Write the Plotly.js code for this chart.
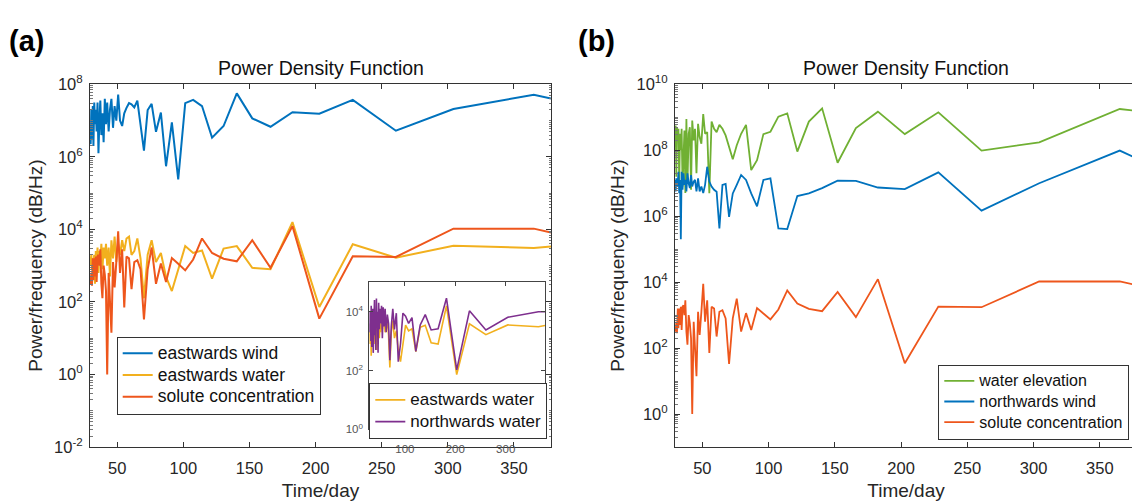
<!DOCTYPE html>
<html><head><meta charset="utf-8">
<script src="https://cdn.plot.ly/plotly-3.0.1.min.js"></script>
<style>html,body{margin:0;padding:0;overflow:hidden;background:#fff;width:1132px;height:502px}#chart{width:1140px;height:502px}</style>
</head><body><div id="chart"></div>
<script>
// period (days) of each spectral estimate
const days = [29.4,29.9,30.4,30.9,31.5,32.0,32.6,33.2,33.8,34.4,35.1,35.8,36.5,37.2,38.0,38.8,39.7,40.6,41.5,42.4,43.5,44.5,45.6,46.8,48.0,49.3,50.7,52.1,53.7,55.3,57.0,58.9,60.8,62.9,65.2,67.6,70.2,73.0,76.0,79.3,83.0,86.9,91.3,96.1,101.4,107.4,114.1,121.7,130.4,140.4,152.1,165.9,182.5,202.8,228.1,260.7,304.2,365.0,378.0];

// values read as log10(power/frequency)
const eastWindLog = [6.6,6.35,7.3,6.5,7.4,6.3,7.5,6.9,7.3,6.7,7.5,6.1,7.0,7.55,6.6,7.2,6.4,7.6,6.9,7.5,6.7,7.3,7.6,6.8,7.4,7.0,7.72,7.0,6.85,7.2,7.35,7.48,7.45,7.36,7.55,6.9,6.17,7.29,7.46,6.69,7.22,5.74,6.95,5.38,7.48,7.57,7.40,6.53,6.85,7.75,7.06,6.83,7.23,7.19,7.57,6.72,7.32,7.71,7.61];
const eastWaterLog = [3.25,3.0,3.3,2.9,3.2,3.1,3.3,2.5,3.4,3.0,3.5,2.8,3.4,3.1,3.6,2.9,3.5,3.2,3.6,3.0,3.5,2.7,3.7,3.2,3.8,3.1,3.6,3.3,3.7,3.4,3.75,3.8,3.3,3.4,3.75,3.2,2.1,3.3,3.70,3.10,3.35,2.69,2.30,2.9,3.54,3.35,3.42,2.64,3.47,3.54,2.94,2.90,4.20,1.86,3.59,3.22,3.55,3.49,3.53];
const soluteLog = [2.65,2.5,2.8,2.45,3.2,2.6,3.2,2.7,3.25,2.55,3.25,3.3,3.0,3.45,2.5,2.1,3.0,2.75,2.3,0.0,2.8,2.0,1.15,3.1,2.4,3.1,3.95,2.8,3.45,1.85,3.25,3.2,2.35,3.1,3.15,2.9,1.52,2.9,3.5,2.5,3.06,2.55,3.21,3.05,2.87,3.17,3.75,3.35,3.19,3.12,3.70,2.94,4.09,1.54,3.26,3.24,4.02,4.02,3.91];
const northWaterLog = [3.6,3.9,3.3,4.0,3.5,3.8,3.0,4.2,3.4,2.8,4.0,3.3,4.1,2.6,3.9,3.3,4.4,3.2,3.9,2.7,4.45,3.5,4.0,2.6,4.3,3.4,4.1,3.6,4.2,3.1,4.15,3.5,4.1,3.3,3.9,3.6,2.35,3.5,4.1,3.4,3.95,2.3,2.9,3.95,3.85,3.6,3.8,2.65,3.55,3.9,3.38,3.42,4.46,2.02,4.03,3.38,3.81,4.0,4.0];
const waterElevLog = [8.1,8.75,7.2,8.7,8.3,8.65,7.0,8.5,8.0,8.65,6.9,8.3,8.6,6.7,8.95,7.0,8.5,8.7,6.8,8.9,8.3,8.65,7.3,8.8,8.4,8.2,9.1,8.5,8.55,6.7,8.87,8.65,8.55,8.77,8.65,8.45,8.1,7.73,8.15,8.5,8.77,7.40,7.70,8.49,8.56,9.02,9.12,7.96,8.87,9.27,7.62,8.67,9.17,8.49,9.15,7.99,8.24,9.25,9.19];
const northWindLog = [7.1,6.75,7.15,6.9,7.0,7.35,6.7,7.1,5.3,7.35,6.8,7.3,6.95,7.1,6.75,7.3,7.0,6.85,7.25,6.9,7.05,7.1,6.75,7.15,6.75,6.9,6.7,6.95,7.5,7.05,6.9,6.8,6.74,5.63,6.95,6.98,5.98,6.69,6.95,7.25,7.10,6.69,6.3,7.1,7.15,5.63,5.61,6.61,6.69,6.85,7.08,7.07,6.87,6.82,7.33,6.17,7.00,7.99,7.75];

const dayTicks = [50,100,150,200,250,300,350];
const insetDayTicks = [100,200,300];
const yTicksA = [1e-2,1e0,1e2,1e4,1e6,1e8];
const yTextA = ['10<sup>-2</sup>','10<sup>0</sup>','10<sup>2</sup>','10<sup>4</sup>','10<sup>6</sup>','10<sup>8</sup>'];
const yTicksB = [1e0,1e2,1e4,1e6,1e8,1e10];
const yTextB = ['10<sup>0</sup>','10<sup>2</sup>','10<sup>4</sup>','10<sup>6</sup>','10<sup>8</sup>','10<sup>10</sup>'];
const yTicksInset = [1e0,1e2,1e4];
const yTextInset = ['10<sup>0</sup>','10<sup>2</sup>','10<sup>4</sup>'];

const names = {eastWind:'eastwards wind', eastWater:'eastwards water', solute:'solute concentration', northWater:'northwards water', waterElev:'water elevation', northWind:'northwards wind'};

const C = {blue:'#0072BD', yellow:'#F2B01E', red:'#EE561C', purple:'#7E2F8E', green:'#70B033'};
const pow = a => a.map(v => Math.pow(10, v));

const W = 1140, H = 502;
const fx = p => p / W, fy = p => 1 - p / H;
const FONT = 'Liberation Sans, Arial, sans-serif';
const INK = '#262626';
const legendLabel = (s, size) => '<span style="font-size:' + size + 'px">' + s + '</span>';

function tr(y, name, color, xa, ya, legend, width, textSize) {
  return {x: days, y: pow(y), name: legendLabel(name, textSize), type: 'scatter', mode: 'lines',
    line: {color: color, width: width}, xaxis: xa, yaxis: ya, legend: legend, hoverinfo: 'skip'};
}

const data = [
  tr(eastWindLog, names.eastWind, C.blue, 'x', 'y', 'legend', 2, 17.5),
  tr(eastWaterLog, names.eastWater, C.yellow, 'x', 'y', 'legend', 2, 17.5),
  tr(soluteLog, names.solute, C.red, 'x', 'y', 'legend', 2, 17.5),
  tr(eastWaterLog, names.eastWater, C.yellow, 'x3', 'y3', 'legend3', 1.6, 17),
  tr(northWaterLog, names.northWater, C.purple, 'x3', 'y3', 'legend3', 1.6, 17),
  tr(waterElevLog, names.waterElev, C.green, 'x2', 'y2', 'legend2', 1.8, 16),
  tr(northWindLog, names.northWind, C.blue, 'x2', 'y2', 'legend2', 1.8, 16),
  tr(soluteLog, names.solute, C.red, 'x2', 'y2', 'legend2', 1.8, 16)
];

const baseX = {range: [29.4, 378], tickmode: 'array', tickvals: dayTicks, ticks: 'inside', ticklen: 5,
  tickcolor: '#333', showline: true, linecolor: '#333', linewidth: 1, mirror: 'ticks', showgrid: false,
  zeroline: false, tickfont: {family: FONT, size: 16.5, color: INK}, ticklabelstandoff: 6,
  title: {text: 'Time/day', font: {family: FONT, size: 19, color: INK}, standoff: 7}};
const baseY = {type: 'log', tickmode: 'array', ticks: 'inside', ticklen: 5, tickcolor: '#333',
  showline: true, linecolor: '#333', linewidth: 1, mirror: 'ticks', showgrid: false, zeroline: false,
  tickfont: {family: FONT, size: 16.5, color: INK}, ticklabelstandoff: 3,
  minor: {ticks: 'inside', ticklen: 2.5, tickcolor: '#777', dtick: 'D1', showgrid: false},
  title: {text: 'Power/frequency (dB/Hz)', font: {family: FONT, size: 19, color: INK}, standoff: 6}};

const legBase = {xanchor: 'left', yanchor: 'top', bgcolor: '#fff', bordercolor: '#333', borderwidth: 1,
  font: {family: FONT, size: 14.4, color: '#111'}, itemwidth: 30, tracegroupgap: 0};

const layout = {
  width: W, height: H, margin: {l: 0, r: 0, t: 0, b: 0},
  paper_bgcolor: '#fff', plot_bgcolor: '#fff', font: {family: FONT, color: INK},
  xaxis: Object.assign({}, baseX, {domain: [fx(90), fx(551)], anchor: 'y'}),
  yaxis: Object.assign({}, baseY, {domain: [fy(447), fy(84.3)], anchor: 'x', range: [-2, 8], tickvals: yTicksA, ticktext: yTextA}),
  xaxis2: Object.assign({}, baseX, {domain: [fx(675), fx(1137)], anchor: 'y2'}),
  yaxis2: Object.assign({}, baseY, {domain: [fy(447), fy(84.3)], anchor: 'x2', range: [-1, 10], tickvals: yTicksB, ticktext: yTextB}),
  xaxis3: {domain: [fx(369.3), fx(545)], anchor: 'y3', range: [29.4, 378], tickmode: 'array', tickvals: insetDayTicks,
    ticks: 'inside', ticklen: 4, tickcolor: '#444', showline: true, linecolor: '#444', linewidth: 1, mirror: 'ticks',
    showgrid: false, zeroline: false, tickfont: {family: FONT, size: 11.5, color: '#555'}, ticklabelstandoff: 9},
  yaxis3: {type: 'log', domain: [fy(429.3), fy(282.3)], anchor: 'x3', range: [0, 5], tickmode: 'array',
    tickvals: yTicksInset, ticktext: yTextInset, ticks: 'inside', ticklen: 4, tickcolor: '#444', showline: true,
    linecolor: '#444', linewidth: 1, mirror: 'ticks', showgrid: false, zeroline: false,
    tickfont: {family: FONT, size: 11.5, color: '#555'}, ticklabelstandoff: 3},
  legend: Object.assign({}, legBase, {x: fx(116.7), y: fy(336.5)}),
  legend2: Object.assign({}, legBase, {x: fx(938.3), y: fy(364.5), font: {family: FONT, size: 13.6, color: '#111'}}),
  legend3: Object.assign({}, legBase, {x: fx(369.3), y: fy(383)}),
  annotations: [
    {text: '<b>(a)</b>', x: fx(7), y: fy(41), xref: 'paper', yref: 'paper', xanchor: 'left', yanchor: 'middle', showarrow: false, font: {family: FONT, size: 29, color: '#000'}},
    {text: '<b>(b)</b>', x: fx(576), y: fy(41), xref: 'paper', yref: 'paper', xanchor: 'left', yanchor: 'middle', showarrow: false, font: {family: FONT, size: 29, color: '#000'}},
    {text: 'Power Density Function', x: fx(320.5), y: fy(68), xref: 'paper', yref: 'paper', xanchor: 'center', yanchor: 'middle', showarrow: false, font: {family: FONT, size: 19.5, color: '#111'}},
    {text: 'Power Density Function', x: fx(906), y: fy(68), xref: 'paper', yref: 'paper', xanchor: 'center', yanchor: 'middle', showarrow: false, font: {family: FONT, size: 19.5, color: '#111'}}
  ]
};

Plotly.newPlot('chart', data, layout, {staticPlot: true, displayModeBar: false});
</script></body></html>
